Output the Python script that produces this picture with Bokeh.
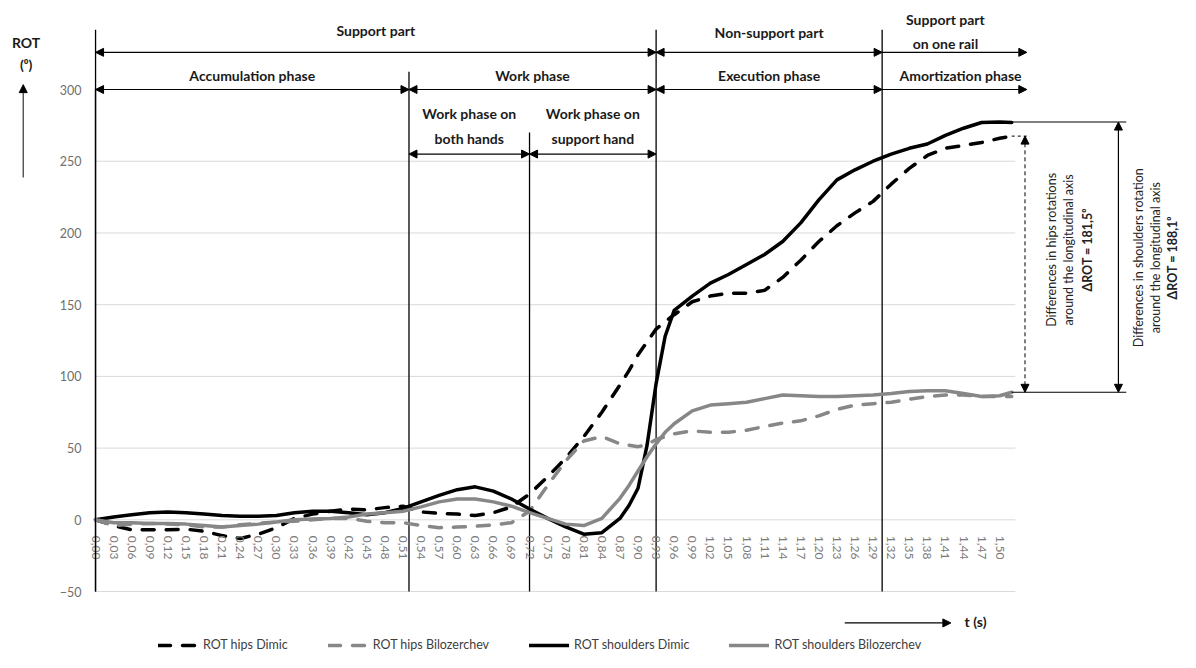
import numpy as np
from bokeh.plotting import figure
from bokeh.models import (ColumnDataSource, FixedTicker, Arrow, NormalHead,
                          Legend, LegendItem, Range1d)
from bokeh.core.properties import value
from bokeh.embed import file_html
from bokeh.resources import INLINE

# ---------------- data ----------------
t = [0.00, 0.03, 0.06, 0.09, 0.12, 0.15, 0.18, 0.21, 0.24, 0.27,
     0.30, 0.33, 0.36, 0.39, 0.42, 0.45, 0.48, 0.51, 0.54, 0.57,
     0.60, 0.63, 0.66, 0.69, 0.72, 0.75, 0.78, 0.81, 0.84, 0.87,
     0.885, 0.90, 0.915, 0.93, 0.945, 0.96, 0.99, 1.02, 1.05, 1.08,
     1.11, 1.14, 1.17, 1.20, 1.23, 1.26, 1.29, 1.32, 1.35, 1.38,
     1.41, 1.44, 1.47, 1.50, 1.52]

hips_dimic = [0, -4, -7, -7, -7, -6.5, -8, -11, -13, -10,
              -5.5, 1, 4, 6, 7.5, 7, 8.5, 9.5, 5.5, 4.5,
              4, 3, 5, 9, 18, 30, 43, 58, 75, 94,
              104, 115, 124, 133, 138, 143, 152, 156, 158, 158,
              160, 169, 181, 194, 205, 214, 222, 234, 245, 254,
              259, 261, 263, 266, 267.5]

hips_bilozerchev = [0, -4, -3, -2.5, -3, -3.5, -5, -5, -3.5, -2.5,
                    -1.5, -1, 0, 1, 1, -1, -2, -2, -4, -5.5,
                    -5, -4.5, -3.5, -2, 6, 24, 41, 55, 58, 53,
                    52, 51, 52.5, 56, 58, 60, 62, 61, 61, 62.5,
                    65, 67.5, 69, 72.5, 77, 80, 81, 82, 84, 86,
                    87, 87, 86, 86, 86]

shoulders_dimic = [0, 2, 3.5, 5, 5.5, 5, 4, 3, 2.5, 2.5,
                   3, 5, 6, 6, 5, 3.5, 5, 8, 12.5, 17,
                   21, 23, 20, 14.5, 7.5, 1, -5, -10, -9, 1,
                   10, 22, 52, 95, 128, 146, 156, 165, 171, 178,
                   185, 194, 207, 223, 237, 244, 250, 255, 259, 262,
                   268, 273, 277, 277.3, 277]

shoulders_bilozerchev = [0, -2, -2, -2.5, -2.5, -3, -4, -5, -4, -3,
                         -1.5, 0, 0.5, 1, 2, 4, 5, 6, 9, 12.5,
                         14.5, 14.5, 12.5, 9.5, 5, 1, -3, -4, 1, 15,
                         24, 34, 44, 53, 61, 67, 76, 80, 81, 82,
                         84.5, 87, 86.5, 86, 86, 86.5, 87, 88, 89.5, 90,
                         90, 88, 86, 86.5, 88.9]

series_names = ["ROT hips Dimic", "ROT hips Bilozerchev",
                "ROT shoulders Dimic", "ROT shoulders Bilozerchev"]

x_ticks = [0.00, 0.03, 0.06, 0.09, 0.12, 0.15, 0.18, 0.21, 0.24, 0.27,
           0.30, 0.33, 0.36, 0.39, 0.42, 0.45, 0.48, 0.51, 0.54, 0.57,
           0.60, 0.63, 0.66, 0.69, 0.72, 0.75, 0.78, 0.81, 0.84, 0.87,
           0.90, 0.93, 0.96, 0.99, 1.02, 1.05, 1.08, 1.11, 1.14, 1.17,
           1.20, 1.23, 1.26, 1.29, 1.32, 1.35, 1.38, 1.41, 1.44, 1.47,
           1.50]
x_tick_labels = ["0,00", "0,03", "0,06", "0,09", "0,12", "0,15", "0,18", "0,21", "0,24", "0,27",
                 "0,30", "0,33", "0,36", "0,39", "0,42", "0,45", "0,48", "0,51", "0,54", "0,57",
                 "0,60", "0,63", "0,66", "0,69", "0,72", "0,75", "0,78", "0,81", "0,84", "0,87",
                 "0,90", "0,93", "0,96", "0,99", "1,02", "1,05", "1,08", "1,11", "1,14", "1,17",
                 "1,20", "1,23", "1,26", "1,29", "1,32", "1,35", "1,38", "1,41", "1,44", "1,47",
                 "1,50"]
y_ticks = [-50, 0, 50, 100, 150, 200, 250, 300]

# phase boundaries (s)
phase_t = [0.0, 0.52, 0.72, 0.93, 1.305]
t_end = 1.545

hips_delta_label = "ΔROT = 181,5⁰"
shoulders_delta_label = "ΔROT = 188,1⁰"

# ---------------- figure ----------------
FONT = value("Lato")
p = figure(width=1180, height=652, output_backend="svg", toolbar_location=None,
           x_range=Range1d(-0.1577, 1.800), y_range=Range1d(-92.5, 362.05),
           min_border=0)
p.outline_line_color = None
p.xgrid.visible = False
p.ygrid.visible = False

# axes at data zero
p.yaxis.fixed_location = 0
p.yaxis.ticker = FixedTicker(ticks=y_ticks)
p.yaxis.bounds = (-50, 300)
p.yaxis.major_tick_out = 0
p.yaxis.major_tick_in = 0
p.yaxis.minor_tick_out = 0
p.yaxis.minor_tick_in = 0
p.yaxis.axis_line_color = "black"
p.yaxis.axis_line_width = 1.3
p.yaxis.major_label_standoff = 14
p.yaxis.major_label_text_color = "#6f6f6f"
p.yaxis.major_label_text_font = "Lato"
p.yaxis.major_label_text_font_size = "12.5px"

p.xaxis.fixed_location = 0
p.xaxis.ticker = FixedTicker(ticks=x_ticks)
p.xaxis.major_label_overrides = {tt: lab for tt, lab in zip(x_ticks, x_tick_labels)}
p.xaxis.major_label_orientation = "vertical"
p.xaxis.major_tick_out = 0
p.xaxis.major_tick_in = 0
p.xaxis.minor_tick_out = 0
p.xaxis.minor_tick_in = 0
p.xaxis.axis_line_color = None
p.xaxis.major_label_standoff = 16
p.xaxis.major_label_text_color = "#7a7a7a"
p.xaxis.major_label_text_font = "Lato"
p.xaxis.major_label_text_font_size = "12px"

# gridlines
p.segment(x0=[0] * len(y_ticks), x1=[1.526] * len(y_ticks), y0=y_ticks, y1=y_ticks,
          line_color="#d9d9d9", line_width=1)

# phase boundary lines
phase_tops = [341.6, 312.3, 270.0, 341.6, 341.6]
p.segment(x0=phase_t, x1=phase_t, y0=[-50] * 5, y1=phase_tops,
          line_color="black", line_width=1.3)

# series
src = ColumnDataSource(dict(t=t, hd=hips_dimic, hb=hips_bilozerchev,
                            sd=shoulders_dimic, sb=shoulders_bilozerchev))
GRAY = "#878787"
r1 = p.line("t", "hd", source=src, line_color="black", line_width=3.5,
            line_dash="12 12", line_cap="round", line_join="round")
r2 = p.line("t", "hb", source=src, line_color=GRAY, line_width=3.5,
            line_dash="12 12", line_cap="round", line_join="round")
r3 = p.line("t", "sd", source=src, line_color="black", line_width=3.5,
            line_cap="round", line_join="round")
r4 = p.line("t", "sb", source=src, line_color=GRAY, line_width=3.5,
            line_cap="round", line_join="round")


def head():
    return NormalHead(size=8, fill_color="black", line_color="black", line_width=1)


# horizontal phase arrows
row1, row2, row3 = 325.9, 300.0, 255.0
dbl = ColumnDataSource(dict(
    x0=[phase_t[0], phase_t[3], phase_t[0], phase_t[1], phase_t[3], phase_t[1], phase_t[2]],
    x1=[phase_t[3], phase_t[4], phase_t[1], phase_t[3], phase_t[4], phase_t[2], phase_t[3]],
    y=[row1, row1, row2, row2, row2, row3, row3]))
p.add_layout(Arrow(start=head(), end=head(), x_start="x0", y_start="y",
                   x_end="x1", y_end="y", source=dbl, line_width=1.2))
sgl = ColumnDataSource(dict(x0=[phase_t[4], phase_t[4]], x1=[t_end, t_end], y=[row1, row2]))
p.add_layout(Arrow(end=head(), x_start="x0", y_start="y",
                   x_end="x1", y_end="y", source=sgl, line_width=1.2))

# phase labels
def mid(a, b):
    return (a + b) / 2

bold = dict(text_font=FONT, text_font_style="bold", text_font_size="14px",
            text_align="center", text_baseline="middle", text_color="#1a1a1a",
            text_line_height=1.45)
p.text(x=[mid(phase_t[0], phase_t[3]), mid(phase_t[3], phase_t[4]), 1.41],
       y=[row1] * 3, text=["Support part", "Non-support part", "Support part\non one rail"],
       y_offset=[-22, -20, -21], **bold)
p.text(x=[mid(phase_t[0], phase_t[1]), mid(phase_t[1], phase_t[3]),
          mid(phase_t[3], phase_t[4]), 1.435],
       y=[row2] * 4, text=["Accumulation phase", "Work phase", "Execution phase", "Amortization phase"],
       y_offset=-14, **bold)
p.text(x=[mid(phase_t[1], phase_t[2]), mid(phase_t[2], phase_t[3])],
       y=[row3] * 2, text=["Work phase on\nboth hands", "Work phase on\nsupport hand"],
       y_offset=-28, **bold)

# y label and arrow
p.text(x=[-0.1152, -0.1152], y=[332.7, 317.7], text=["ROT", "(⁰)"], **bold)
p.add_layout(Arrow(end=head(), x_start=-0.120, y_start=238.6, x_end=-0.120, y_end=303.4,
                   line_width=1.2, line_color="#333333"))

# x label and arrow
p.text(x=[1.460], y=[-70.9], text=["t (s)"], **bold)
p.add_layout(Arrow(end=head(), x_start=1.243, y_start=-71.9, x_end=1.419, y_end=-71.9,
                   line_width=1.2))

# right-hand difference annotations
hd_end = hips_dimic[-1]
sd_max = max(shoulders_dimic)
sb_end = shoulders_bilozerchev[-1]
p.segment(x0=[1.52, 1.52], x1=[1.710, 1.710], y0=[sd_max, sb_end], y1=[sd_max, sb_end],
          line_color="black", line_width=1.1)
p.segment(x0=[1.52], x1=[1.55], y0=[hd_end], y1=[hd_end],
          line_color="black", line_width=1, line_dash="3 3")
p.add_layout(Arrow(start=head(), end=head(), x_start=1.697, y_start=sb_end,
                   x_end=1.697, y_end=sd_max, line_width=1.2))
p.add_layout(Arrow(start=head(), end=head(), x_start=1.542, y_start=sb_end,
                   x_end=1.542, y_end=hd_end, line_width=1, line_dash="4 3"))

rot = dict(text_font=FONT, text_font_size="12.5px", text_align="center",
           text_baseline="middle", text_color="#222222", angle=np.pi / 2)
p.text(x=[1.586, 1.615], y=[188.2, 188.2],
       text=["Differences in hips rotations", "around the longitudinal axis"], **rot)
p.text(x=[1.645], y=[188.2], text=[hips_delta_label], text_font_style="bold", **rot)
p.text(x=[1.730, 1.759], y=[182.7, 182.7],
       text=["Differences in shoulders rotation", "around the longitudinal axis"], **rot)
p.text(x=[1.787], y=[182.7], text=[shoulders_delta_label], text_font_style="bold", **rot)

# legend
legend = Legend(items=[LegendItem(label=series_names[0], renderers=[r1]),
                       LegendItem(label=series_names[1], renderers=[r2]),
                       LegendItem(label=series_names[2], renderers=[r3]),
                       LegendItem(label=series_names[3], renderers=[r4])],
                orientation="horizontal", location=(158, 0))
legend.background_fill_alpha = 0
legend.border_line_color = None
legend.padding = 0
legend.margin = 0
legend.spacing = 40
legend.glyph_width = 40
legend.glyph_height = 14
legend.label_height = 14
legend.label_standoff = 5
legend.label_text_font = "Lato"
legend.label_text_font_size = "12.5px"
legend.label_text_color = "#404040"
p.add_layout(legend)

open("out.html", "w").write(file_html(p, INLINE))
